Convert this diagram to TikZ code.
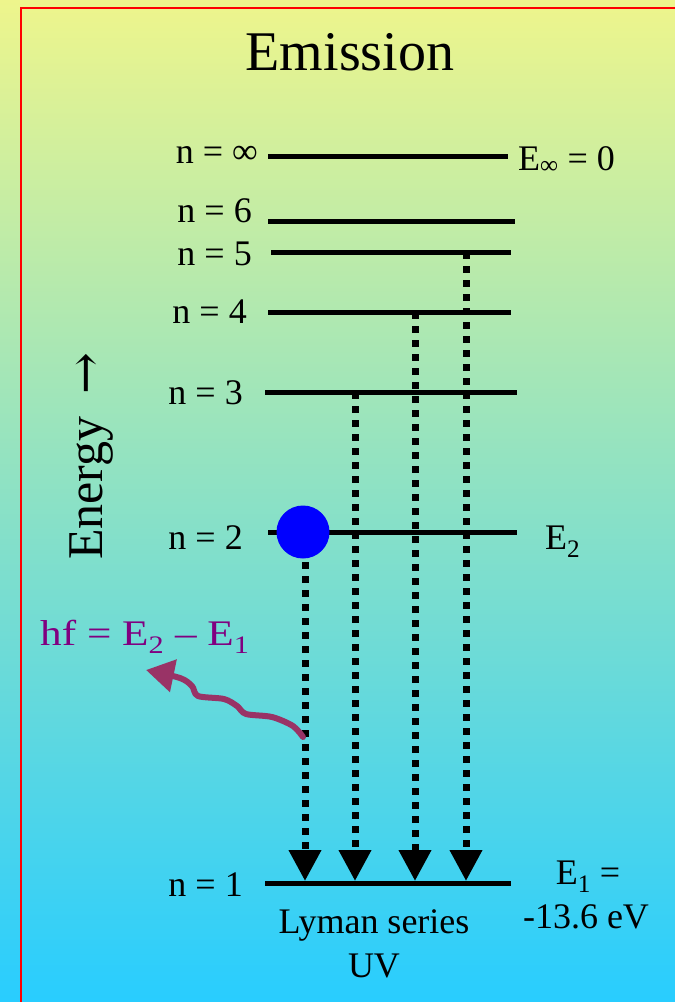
\documentclass[tikz,border=0pt]{standalone}
\usepackage{fontspec}
\setmainfont{Liberation Serif}
\newfontfamily\arrowfont{DejaVu Serif}
\usetikzlibrary{arrows.meta}
\definecolor{bgtop}{RGB}{238,245,140}
\definecolor{bgbot}{RGB}{40,205,255}
\definecolor{photon}{RGB}{153,51,102}
\definecolor{hflabel}{RGB}{128,0,128}

\begin{document}
\begin{tikzpicture}[
      x=1pt,y=-1pt,
      lvl/.style={draw=black,line width=5pt},
      lbl/.style={inner sep=0pt,font=\fontsize{36}{42}\selectfont},
      drop/.style={draw=black,line width=7pt,dash pattern=on 7pt off 7pt,
                   -{Triangle[length=31pt,width=31pt]}},
      wave/.style={draw=photon,line width=6pt,line cap=round,line join=round,
                   -{Triangle[length=28pt,width=32pt]}},
      electron/.style={circle,fill=blue,minimum size=53pt,inner sep=0pt}
    ]
    % background and frame
    \shade[top color=bgtop,bottom color=bgbot] (0,0) rectangle (675,1002);
    \useasboundingbox (0,0) rectangle (675,1002);
    \draw[red,line width=2.5pt] (21,1002) -- (21,8) -- (675,8);

    \node[lbl,anchor=base,font=\fontsize{56}{64}\selectfont] (title) at (350,70) {Emission};

    % energy levels
    \foreach \n/\y/\xa/\xb in {inf/156/268/508,6/221/268/515,5/252/271/511,
                               4/312/268/511,3/392/265/517,2/532/268/517,1/883/265/511}{
      \coordinate (n\n w) at (\xa,\y);
      \coordinate (n\n e) at (\xb,\y);
      \draw[lvl] (n\n w) -- (n\n e);
    }

    \node[lbl,anchor=base east] (linf) at (258,163) {n = ∞};
    \node[lbl,anchor=base east] (l6) at (252,222) {n = 6};
    \node[lbl,anchor=base east] (l5) at (252,265) {n = 5};
    \node[lbl,anchor=base east] (l4) at (247,323) {n = 4};
    \node[lbl,anchor=base east] (l3) at (243,404) {n = 3};
    \node[lbl,anchor=base east] (l2) at (243,549) {n = 2};
    \node[lbl,anchor=base east] (l1) at (243,896) {n = 1};

    \node[lbl,anchor=base west] (einf) at (518,170) {E\textsubscript{∞} = 0};
    \node[lbl,anchor=base west] (e2) at (545,549) {E\textsubscript{2}};
    \node[lbl,anchor=base] (e1) at (588,884) {E\textsubscript{1} =};
    \node[lbl,anchor=base] (e1val) at (586,928) {-13.6 eV};
    \node[lbl,anchor=base] (lyman) at (374,933) {Lyman series};
    \node[lbl,anchor=base] (uv) at (374,977) {UV};

    \node[lbl,anchor=base west,rotate=90,font=\fontsize{50}{58}\selectfont] (energy)
         at (102,560) {Energy\hspace{22pt}{\arrowfont →}};

    % electron on n = 2
    \node[electron] (el) at (303,532) {};

    % transitions down to n = 1
    \coordinate (d2) at (305,562); \coordinate (t2) at (305,881);
    \coordinate (d3) at (355,392); \coordinate (t3) at (355,881);
    \coordinate (d4) at (415,312); \coordinate (t4) at (415,881);
    \coordinate (d5) at (466,252); \coordinate (t5) at (466,881);
    \foreach \i in {2,3,4,5} \draw[drop] (d\i) -- (t\i);

    % emitted photon
    \coordinate (emit) at (303,737);
    \coordinate (out) at (146,670);
    \draw[wave] plot[smooth,tension=0.5] coordinates {(emit) (293,726) (272,717) (246,714)
        (237,706) (224,699) (198,696) (192,686) (180,678) (out)};
    \node[lbl,anchor=base west,text=hflabel,xscale=1.2,transform shape] (hf) at (40,645)
         {hf = E\textsubscript{2} – E\textsubscript{1}};
  \end{tikzpicture}
\end{document}
